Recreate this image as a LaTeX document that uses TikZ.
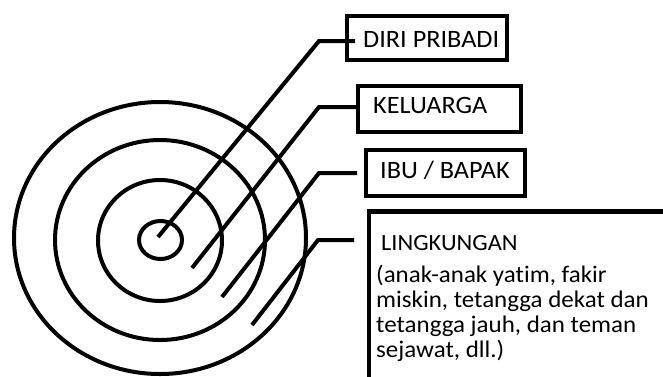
\documentclass[tikz,border=0pt]{standalone}
\usepackage{fontspec}
\setmainfont[FakeStretch=1.05, Ligatures=NoCommon]{Carlito}
\begin{document}
\begin{tikzpicture}[x=1pt,y=-1pt,
  ring/.style={line width=4pt},
  lead/.style={line width=4pt},
  panel/.style={draw, line width=4.6pt, inner sep=0pt, outer sep=0pt},
  tag/.style={anchor=base west, inner sep=0pt, font=\fontsize{25}{30}\selectfont},
  head/.style={anchor=base west, inner sep=0pt, font=\fontsize{23.2}{28}\selectfont},
  body/.style={anchor=base west, inner sep=0pt, font=\fontsize{23.8}{29}\selectfont}]
\useasboundingbox (0,0) rectangle (663,376);
\clip (0,0) rectangle (663,376);
\fill[white] (0,0) rectangle (663,376);

% concentric rings
\draw[ring] (160,238) ellipse [x radius=146pt, y radius=136pt];
\draw[ring] (160,240) ellipse [x radius=105pt, y radius=100pt];
\draw[ring] (160,240.5) ellipse [x radius=62pt, y radius=60.5pt];
\draw[ring] (160.5,240) ellipse [x radius=21.5pt, y radius=19pt];

% label boxes
\node[panel, minimum width=160pt, minimum height=44pt] (diri) at (427,38) {};
\node[panel, minimum width=163pt, minimum height=46pt] (kel) at (439.5,109) {};
\node[panel, minimum width=159pt, minimum height=46pt] (ibu) at (445.5,173) {};
\node[panel, anchor=north west, minimum width=400pt, minimum height=300pt] (env) at (369,211.5) {};

% texts
\node[tag] (tdiri) at (363,47) {DIRI PRIBADI};
\node[tag] (tkel) at (373,113) {KELUARGA};
\node[tag] (tibu) at (380,178) {IBU / BAPAK};
\node[head] (tenv) at (381,250) {LINGKUNGAN};
\node[body] (d1) at (376,282) {(anak-anak yatim, fakir};
\node[body] (d2) at (376,307) {miskin, tetangga dekat dan};
\node[body] (d3) at (376,332) {tetangga jauh, dan teman};
\node[body] (d4) at (376,357) {sejawat, dll.)};

% leader lines
\coordinate (s1) at (158,237);  \coordinate (k1) at (319,41);  \coordinate (e1) at (355,41);
\coordinate (s2) at (192,268);  \coordinate (k2) at (319,107); \coordinate (e2) at (357,107);
\coordinate (s3) at (222,297);  \coordinate (k3) at (319,173); \coordinate (e3) at (357,173);
\coordinate (s4) at (252,325);  \coordinate (k4) at (318,240); \coordinate (e4) at (354,240);
\draw[lead] (s1) -- (k1) -- (e1);
\draw[lead] (s2) -- (k2) -- (e2);
\draw[lead] (s3) -- (k3) -- (e3);
\draw[lead] (s4) -- (k4) -- (e4);
\end{tikzpicture}
\end{document}
